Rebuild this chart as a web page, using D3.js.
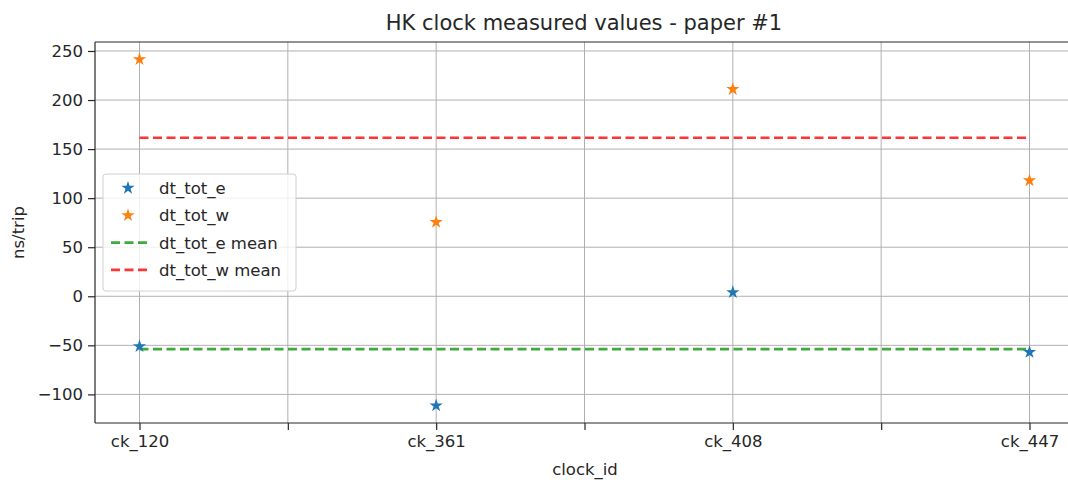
<!DOCTYPE html>
<html>
<head>
<meta charset="utf-8">
<script src="https://cdn.jsdelivr.net/npm/d3@7"></script>
<style>
  body { margin: 0; background: #fff; overflow: hidden; }
  text { font-family: "DejaVu Sans", sans-serif; fill: #262626; }
</style>
</head>
<body>
<script>
var clockIds = ['ck_120', 'ck_361', 'ck_408', 'ck_447'];
var dtTotE = [-51, -111.5, 4, -57];
var dtTotW = [241.5, 75.5, 211, 118];
var yTicks = [-100, -50, 0, 50, 100, 150, 200, 250];
var xTicks = [0, 0.5, 1, 1.5, 2, 2.5, 3];

var width = 1068, height = 480;
var margin = {left: 95, right: 1074, top: 42, bottom: 423};

var svg = d3.select('body').append('svg')
    .attr('width', width)
    .attr('height', height)
    .style('display', 'block');

var x = d3.scaleLinear().domain([-0.15, 3.15]).range([margin.left, margin.right]);
var yMin = d3.min(dtTotE.concat(dtTotW)), yMax = d3.max(dtTotE.concat(dtTotW));
var pad = (yMax - yMin) * 0.05;
var y = d3.scaleLinear().domain([yMin - pad, yMax + pad]).range([margin.bottom, margin.top]);

// grid
svg.append('g').selectAll('line.vg')
    .data(xTicks)
    .enter().append('line')
    .attr('x1', function(d) { return x(d); })
    .attr('x2', function(d) { return x(d); })
    .attr('y1', margin.top)
    .attr('y2', margin.bottom)
    .style('stroke', '#b0b0b0')
    .style('stroke-width', 1);

svg.append('g').selectAll('line.hg')
    .data(yTicks)
    .enter().append('line')
    .attr('x1', margin.left)
    .attr('x2', margin.right)
    .attr('y1', function(d) { return y(d); })
    .attr('y2', function(d) { return y(d); })
    .style('stroke', '#b0b0b0')
    .style('stroke-width', 1);

// axes
var xAxis = d3.axisBottom(x)
    .tickValues(xTicks)
    .tickSize(7)
    .tickPadding(5)
    .tickFormat(function(d) { return Number.isInteger(d) ? clockIds[d] : ''; });
var gx = svg.append('g')
    .attr('transform', 'translate(0,' + margin.bottom + ')')
    .call(xAxis);

var yAxis = d3.axisLeft(y)
    .tickValues(yTicks)
    .tickSize(7)
    .tickPadding(5)
    .tickFormat(function(d) { return d < 0 ? '\u2212' + Math.abs(d) : d; });
var gy = svg.append('g')
    .attr('transform', 'translate(' + margin.left + ',0)')
    .call(yAxis);

[gx, gy].forEach(function(g) {
  g.selectAll('text').style('font-size', '16.5px').style('font-family', '"DejaVu Sans", sans-serif').style('fill', '#262626');
  g.selectAll('line').style('stroke', '#262626').style('stroke-width', 1.2);
  g.select('.domain').remove();
});

// spines (left, bottom, top; right falls outside the picture)
svg.append('line').attr('x1', margin.left).attr('x2', margin.left)
    .attr('y1', margin.top).attr('y2', margin.bottom)
    .style('stroke', '#262626').style('stroke-width', 1.2);
svg.append('line').attr('x1', margin.left).attr('x2', margin.right)
    .attr('y1', margin.bottom).attr('y2', margin.bottom)
    .style('stroke', '#262626').style('stroke-width', 1.2);
svg.append('line').attr('x1', margin.left).attr('x2', margin.right)
    .attr('y1', margin.top).attr('y2', margin.top)
    .style('stroke', '#262626').style('stroke-width', 1.2);

// mean lines
var meanE = d3.mean(dtTotE), meanW = d3.mean(dtTotW);
var means = [
  {v: meanE, color: '#2ca02c'},
  {v: meanW, color: '#ff2020'}
];
svg.selectAll('.mean')
    .data(means)
    .enter().append('line')
    .attr('class', 'mean')
    .attr('x1', x(0))
    .attr('x2', x(3))
    .attr('y1', function(d) { return y(d.v); })
    .attr('y2', function(d) { return y(d.v); })
    .style('stroke', function(d) { return d.color; })
    .style('stroke-width', 2.6)
    .style('stroke-dasharray', '9,4.5')
    .style('opacity', 0.9);

// stars
var star = d3.symbol().type(d3.symbolStar).size(55);
function paintStars(values, color) {
  svg.append('g').selectAll('path')
      .data(values)
      .enter().append('path')
      .attr('d', star)
      .attr('transform', function(d, i) { return 'translate(' + x(i) + ',' + y(d) + ')'; })
      .style('fill', color);
}
paintStars(dtTotE, '#1f77b4');
paintStars(dtTotW, '#ff7f0e');

// labels
svg.append('text')
    .attr('x', 584).attr('y', 30)
    .attr('text-anchor', 'middle')
    .style('font-size', '21px')
    .text('HK clock measured values - paper #1');
svg.append('text')
    .attr('x', 585).attr('y', 475)
    .attr('text-anchor', 'middle')
    .style('font-size', '16.5px')
    .text('clock_id');
svg.append('text')
    .attr('transform', 'translate(24,' + ((margin.top + margin.bottom) / 2) + ') rotate(-90)')
    .attr('text-anchor', 'middle')
    .style('font-size', '16.5px')
    .text('ns/trip');

// legend
var legendItems = [
  {label: 'dt_tot_e', color: '#1f77b4', kind: 'star'},
  {label: 'dt_tot_w', color: '#ff7f0e', kind: 'star'},
  {label: 'dt_tot_e mean', color: '#2ca02c', kind: 'line'},
  {label: 'dt_tot_w mean', color: '#ff2020', kind: 'line'}
];
var lg = svg.append('g').attr('transform', 'translate(103,174)');
lg.append('rect')
    .attr('width', 193).attr('height', 117)
    .attr('rx', 3)
    .style('fill', 'rgba(255,255,255,0.8)')
    .style('stroke', '#d0d0d0');
var rows = lg.selectAll('.row')
    .data(legendItems)
    .enter().append('g')
    .attr('transform', function(d, i) { return 'translate(0,' + (14 + i * 27.3) + ')'; });
rows.filter(function(d) { return d.kind === 'star'; })
    .append('path')
    .attr('d', star)
    .attr('transform', 'translate(25,0)')
    .style('fill', function(d) { return d.color; });
rows.filter(function(d) { return d.kind === 'line'; })
    .append('line')
    .attr('x1', 8).attr('x2', 46)
    .style('stroke', function(d) { return d.color; })
    .style('stroke-width', 2.6)
    .style('stroke-dasharray', '9,4.5')
    .style('opacity', 0.9);
rows.append('text')
    .attr('x', 56).attr('y', 6)
    .style('font-size', '16.5px')
    .text(function(d) { return d.label; });
</script>
</body>
</html>
